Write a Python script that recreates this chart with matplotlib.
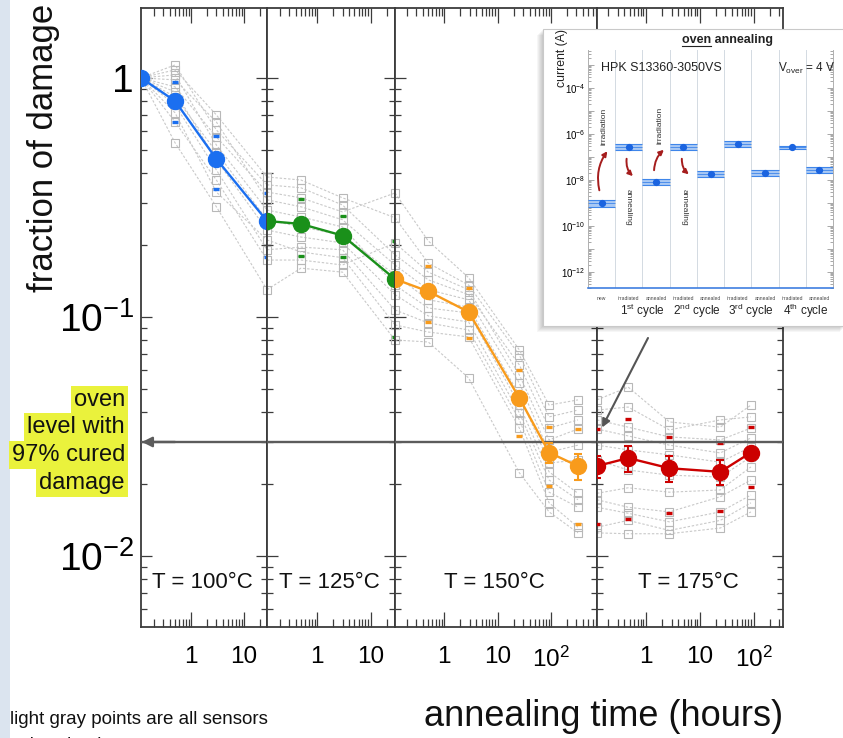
import matplotlib
matplotlib.use("Agg")
import matplotlib.pyplot as plt
from matplotlib.patches import Rectangle, FancyArrowPatch
from matplotlib.ticker import FixedLocator, FixedFormatter, NullFormatter, LogLocator

plt.rcParams.update({
    "font.family": ["Liberation Sans", "DejaVu Sans"],
    "mathtext.fontset": "custom",
    "mathtext.rm": "Liberation Sans",
    "mathtext.it": "Liberation Sans:italic",
    "mathtext.bf": "Liberation Sans:bold",
    "mathtext.default": "regular",
})

# ---------------- data: fraction of damage vs annealing time ----------------
temps = ["T = 100°C", "T = 125°C", "T = 150°C", "T = 175°C"]

t_100 = [0.114, 0.5, 3.0, 27.0]
t_125 = [0.116, 0.5, 3.0, 28.7]
t_150 = [0.119, 0.5, 2.85, 25.5, 92.0, 320.0]
t_175 = [0.124, 0.47, 2.73, 24.0, 89.0]

mean_100 = [1.0, 0.80, 0.458, 0.252]
mean_125 = [0.252, 0.245, 0.219, 0.144]
mean_150 = [0.144, 0.128, 0.105, 0.0458, 0.0271, 0.0238]
mean_175 = [0.0238, 0.0257, 0.0233, 0.0225, 0.0271]

err_100 = [0.0, 0.0, 0.0, 0.0]
err_125 = [0.0, 0.0, 0.0, 0.0]
err_150 = [0.0, 0.0, 0.0, 0.002, 0.0025, 0.003]
err_175 = [0.0025, 0.0033, 0.0028, 0.0027, 0.0015]

nan = float("nan")
lo_100 = [nan, 0.654, 0.343, 0.178]
hi_100 = [nan, 0.962, 0.572, 0.330]
lo_125 = [nan, 0.180, 0.178, 0.0827]
hi_125 = [nan, 0.312, 0.265, 0.207]
lo_150 = [nan, 0.0953, 0.0817, 0.0318, 0.0196, 0.0136]
hi_150 = [nan, 0.164, 0.132, 0.060, 0.0348, 0.0340]
lo_175 = [0.0136, 0.0143, 0.0152, 0.0154, 0.0195]
hi_175 = [0.0340, 0.0374, 0.0315, 0.0297, 0.0348]

# individual sensors (rows), one value per time point
sensors_100 = [
    [1.0, 1.133, 0.606, 0.357],
    [1.0, 1.080, 0.700, 0.385],
    [1.0, 1.029, 0.524, 0.280],
    [1.0, 0.981, 0.654, 0.309],
    [1.0, 0.917, 0.566, 0.333],
    [1.0, 0.874, 0.454, 0.231],
    [1.0, 0.833, 0.490, 0.255],
    [1.0, 0.771, 0.412, 0.191],
    [1.0, 0.714, 0.333, 0.210],
    [1.0, 0.654, 0.374, 0.173],
    [1.0, 0.535, 0.289, 0.130],
]
sensors_125 = [
    [0.357, 0.347, 0.294, 0.182],
    [0.385, 0.374, 0.315, 0.260],
    [0.280, 0.262, 0.238, 0.136],
    [0.309, 0.289, 0.255, 0.165],
    [0.333, 0.315, 0.275, 0.330],
    [0.231, 0.216, 0.204, 0.124],
    [0.255, 0.238, 0.220, 0.150],
    [0.191, 0.196, 0.191, 0.107],
    [0.210, 0.187, 0.177, 0.0926],
    [0.173, 0.173, 0.165, 0.204],
    [0.130, 0.160, 0.154, 0.0801],
]
sensors_150 = [
    [0.182, 0.143, 0.124, 0.0630, 0.0343, 0.0371],
    [0.260, 0.168, 0.136, 0.0693, 0.0382, 0.0408],
    [0.136, 0.109, 0.104, 0.0428, 0.0225, 0.0183],
    [0.165, 0.130, 0.118, 0.0529, 0.0272, 0.0291],
    [0.330, 0.208, 0.146, 0.0728, 0.0428, 0.0450],
    [0.124, 0.101, 0.0953, 0.0397, 0.0208, 0.0172],
    [0.150, 0.118, 0.110, 0.0472, 0.0245, 0.0252],
    [0.107, 0.0944, 0.0882, 0.0371, 0.0185, 0.0160],
    [0.0926, 0.0865, 0.0825, 0.0343, 0.0167, 0.0132],
    [0.204, 0.154, 0.130, 0.0572, 0.0306, 0.0340],
    [0.0801, 0.0786, 0.0556, 0.0223, 0.0153, 0.0125],
]
sensors_175 = [
    [0.0371, 0.0346, 0.0315, 0.0306, 0.0343],
    [0.0408, 0.0420, 0.0337, 0.0371, 0.0382],
    [0.0183, 0.0193, 0.0185, 0.0189, 0.0236],
    [0.0291, 0.0278, 0.0265, 0.0247, 0.0286],
    [0.0450, 0.0509, 0.0364, 0.0346, 0.0428],
    [0.0172, 0.0160, 0.0153, 0.0177, 0.0208],
    [0.0252, 0.0229, 0.0218, 0.0214, 0.0260],
    [0.0160, 0.0151, 0.0139, 0.0153, 0.0180],
    [0.0132, 0.0141, 0.0128, 0.0141, 0.0167],
    [0.0340, 0.0318, 0.0291, 0.0270, 0.0312],
    [0.0125, 0.0124, 0.0124, 0.0131, 0.0153],
]

oven_level = 0.03

# inset: dark current through four irradiation / oven annealing cycles
cat_labels = ["new", "irradiated", "annealed", "irradiated", "annealed",
              "irradiated", "annealed", "irradiated", "annealed"]
cycle_labels = ["1$^{st}$ cycle", "2$^{nd}$ cycle", "3$^{rd}$ cycle", "4$^{th}$ cycle"]
current = [1.0e-9, 2.8e-7, 8.0e-9, 2.8e-7, 1.8e-8, 3.6e-7, 2.1e-8, 2.6e-7, 2.7e-8]
current_lo = [7.0e-10, 2.1e-7, 5.8e-9, 2.1e-7, 1.35e-8, 2.7e-7, 1.55e-8, 2.25e-7, 2.05e-8]
current_hi = [1.4e-9, 3.7e-7, 1.1e-8, 3.7e-7, 2.4e-8, 4.8e-7, 2.85e-8, 3.0e-7, 3.5e-8]

# ---------------- layout ----------------
W, H = 843, 738
fig = plt.figure(figsize=(W / 100, H / 100), dpi=100)


def fx(x):
    return x / W


def fy(y):
    return 1 - y / H


fig.patches.append(Rectangle((0, 0), fx(10), 1, transform=fig.transFigure,
                             facecolor="#dbe4ef", edgecolor="none", zorder=0))

edges = [141, 267, 395, 597, 783]
top_px, bot_px = 8, 627
xlims = [(0.114, 27.0), (0.116, 28.7), (0.119, 728.0), (0.124, 350.0)]
xmajor = [[1, 10], [1, 10], [1, 10, 100], [1, 10, 100]]
xmajor_lab = [["1", "10"], ["1", "10"], ["1", "10", "$10^2$"], ["1", "10", "$10^2$"]]

times = [t_100, t_125, t_150, t_175]
means = [mean_100, mean_125, mean_150, mean_175]
errs = [err_100, err_125, err_150, err_175]
los = [lo_100, lo_125, lo_150, lo_175]
his = [hi_100, hi_125, hi_150, hi_175]
sensors = [sensors_100, sensors_125, sensors_150, sensors_175]
colors = ["#1b6ff0", "#1a901a", "#f89b1c", "#cc0000"]

spine_c = "#3c3c3c"
axes = []
for i in range(4):
    ax = fig.add_axes([fx(edges[i]), fy(bot_px), (edges[i + 1] - edges[i]) / W,
                       (bot_px - top_px) / H])
    axes.append(ax)
    ax.set_xscale("log")
    ax.set_yscale("log")
    ax.set_xlim(*xlims[i])
    ax.set_ylim(0.00505, 1.96)
    for s in ax.spines.values():
        s.set_color(spine_c)
        s.set_linewidth(1.3)

    # individual sensors
    for row in sensors[i]:
        ax.plot(times[i], row, ls=(0, (2.2, 1.6)), color="#c9c9c9", lw=0.8,
                marker="s", ms=6.2, mfc="none", mec="#b8b8b8", mew=0.8, zorder=2)
    # spread of the sensors
    ax.plot(times[i], los[i], ls="none", marker="_", ms=5, mew=2.4,
            color=colors[i], zorder=3)
    ax.plot(times[i], his[i], ls="none", marker="_", ms=5, mew=2.4,
            color=colors[i], zorder=3)
    # average
    ax.errorbar(times[i], means[i], yerr=errs[i], color=colors[i], marker="o",
                ms=11.5, mec=colors[i], lw=1.7, elinewidth=1.5, capsize=3,
                capthick=1.5, zorder=5)

    ax.axhline(oven_level, color="#5c5c5c", lw=1.7, zorder=4)

    ax.xaxis.set_major_locator(FixedLocator(xmajor[i]))
    ax.xaxis.set_major_formatter(FixedFormatter(xmajor_lab[i]))
    ax.xaxis.set_minor_locator(LogLocator(base=10, subs=range(2, 10), numticks=20))
    ax.xaxis.set_minor_formatter(NullFormatter())
    ax.tick_params(axis="x", which="both", direction="in", top=True, bottom=True,
                   color=spine_c, width=0.9)
    ax.tick_params(axis="x", which="major", length=11, pad=14, labelsize=17.5)
    ax.tick_params(axis="x", which="minor", length=6)

    ax.yaxis.set_major_locator(FixedLocator([0.01, 0.1, 1.0]))
    ax.yaxis.set_minor_locator(LogLocator(base=10, subs=range(2, 10), numticks=20))
    ax.yaxis.set_minor_formatter(NullFormatter())
    ax.tick_params(axis="y", which="both", direction="in", left=True, right=True,
                   color=spine_c, width=0.9)
    ax.tick_params(axis="y", which="major", length=8, labelsize=28, pad=5)
    ax.tick_params(axis="y", which="minor", length=4.5)
    if i == 0:
        ax.yaxis.set_major_formatter(FixedFormatter(["$10^{-2}$", "$10^{-1}$", "1"]))
    else:
        ax.yaxis.set_major_formatter(NullFormatter())

    ax.text(0.49, (bot_px - 582) / (bot_px - top_px), temps[i], transform=ax.transAxes,
            ha="center", va="center", fontsize=16, color="#111111", zorder=6)

# arrow head of the oven level line
axes[0].annotate("", xy=(xlims[0][0] * 1.04, oven_level), xytext=(0.5, oven_level),
                 arrowprops=dict(arrowstyle="-|>", color="#5c5c5c", lw=1.7,
                                 mutation_scale=15, shrinkA=0, shrinkB=0),
                 annotation_clip=False, zorder=6)

# axis titles and notes
fig.text(fx(44), fy(148), "fraction of damage", rotation=90, ha="center",
         va="center", fontsize=25, color="#111111")
fig.text(fx(604), fy(716), "annealing time (hours)", ha="center", va="center",
         fontsize=26, color="#111111")
fig.text(fx(10), fy(720), "light gray points are all sensors", ha="left",
         va="center", fontsize=13.5, color="#111111")
fig.text(fx(10), fy(745), "colored points are averages", ha="left",
         va="center", fontsize=13.5, color="#111111")

hl_lines = ["oven", "level with", "97% cured", "damage"]
hl_y = [400, 427, 455, 483]
for s, yy in zip(hl_lines, hl_y):
    fig.text(fx(125), fy(yy), s, ha="right", va="center", fontsize=17,
             color="#111111",
             bbox=dict(facecolor="#eaf23c", edgecolor="none", pad=2.2))

# ---------------- inset panel ----------------
bx0, by0, bx1, by1 = 543, 29, 846, 326
for k in range(1, 7):
    fig.patches.append(Rectangle((fx(bx0 - k), fy(by1 + k)), (bx1 - bx0) / W,
                                 (by1 - by0) / H, transform=fig.transFigure,
                                 facecolor="black", edgecolor="none",
                                 alpha=0.035, zorder=8))
fig.patches.append(Rectangle((fx(bx0), fy(by1)), (bx1 - bx0) / W, (by1 - by0) / H,
                             transform=fig.transFigure, facecolor="white",
                             edgecolor="#c9c9c9", lw=0.8, zorder=9))

ins = fig.add_axes([fx(588), fy(288), 245 / W, 238 / H])
ins.set_zorder(10)
ins.set_facecolor("none")
ins.set_yscale("log")
ins.set_xlim(0, len(current))
ins.set_ylim(2e-13, 4.5e-3)
for k in range(1, len(current)):
    ins.axvline(k, color="#d3dae2", lw=0.7, zorder=1)
for k, (c, lo, hi) in enumerate(zip(current, current_lo, current_hi)):
    ins.fill_between([k, k + 1], lo, hi, color="#a8c8f4", lw=0, zorder=2)
    ins.hlines([lo, hi], k, k + 1, color="#3f86ea", lw=0.8, zorder=3)
    ins.hlines(c, k, k + 1, color="#3f86ea", lw=0.6, zorder=3)
    ins.plot(k + 0.5, c, "o", color="#1b64e0", ms=4.2, zorder=4)
    ins.text(k + 0.5, -0.045, cat_labels[k], transform=ins.get_xaxis_transform(),
             ha="center", va="center", fontsize=3.6, color="#444444")
for k, lab in enumerate(cycle_labels):
    ins.text(2 * k + 2, -0.095, lab, transform=ins.get_xaxis_transform(),
             ha="center", va="center", fontsize=8.5, color="#222222")

ins.spines["top"].set_visible(False)
ins.spines["bottom"].set_color("#3f7fe0")
ins.spines["bottom"].set_linewidth(1.2)
for side in ("left", "right"):
    ins.spines[side].set_color("#b0b0b0")
    ins.spines[side].set_linewidth(0.7)
ins.set_xticks([])
dec = [10.0 ** e for e in range(-13, -2)]
ins.yaxis.set_major_locator(FixedLocator(dec))
ins.yaxis.set_major_formatter(FixedFormatter(
    ["" if e % 2 else "$10^{%d}$" % e for e in range(-13, -2)]))
ins.yaxis.set_minor_locator(LogLocator(base=10, subs=range(2, 10), numticks=30))
ins.yaxis.set_minor_formatter(NullFormatter())
ins.tick_params(axis="y", which="both", direction="in", left=True, right=True,
                color="#9a9a9a", width=0.6, labelsize=7, pad=2)
ins.tick_params(axis="y", which="major", length=4.5)
ins.tick_params(axis="y", which="minor", length=2.5)

# inset titles
ttl = fig.text(fx(727), fy(40), "oven annealing", ha="center", va="center",
               fontsize=9, fontweight="bold", color="#222222", zorder=11)
fig.text(fx(601), fy(68), "HPK S13360-3050VS", ha="left", va="center",
         fontsize=9, color="#222222", zorder=11)
fig.text(fx(778), fy(68), "V$_{over}$ = 4 V", ha="left", va="center",
         fontsize=8.5, color="#222222", zorder=11)
fig.text(fx(562), fy(58), "current (A)", rotation=90, ha="center", va="center",
         fontsize=8.8, color="#222222", zorder=11)
for (x, y) in [(604, 126), (660, 125)]:
    fig.text(fx(x), fy(y), "irradiation", rotation=90, ha="center", va="center",
             fontsize=6, color="#333333", zorder=11)
for (x, y) in [(628, 207), (684, 207)]:
    fig.text(fx(x), fy(y), "annealing", rotation=270, ha="center", va="center",
             fontsize=6, color="#333333", zorder=11)

arrows = [((600, 193), (609, 149), -0.25), ((627, 156), (635, 178), 0.3),
          ((654, 173), (666, 148), -0.25), ((682, 156), (691, 176), 0.3)]
for (p0, p1, rad) in arrows:
    fig.patches.append(FancyArrowPatch(
        (fx(p0[0]), fy(p0[1])), (fx(p1[0]), fy(p1[1])), transform=fig.transFigure,
        connectionstyle="arc3,rad=%g" % rad, arrowstyle="-|>", mutation_scale=7,
        color="#a51d1d", lw=1.4, zorder=11))

# underline the word "oven" in the inset title
fig.canvas.draw()
renderer = fig.canvas.get_renderer()
bb = ttl.get_window_extent(renderer)
tmp = fig.text(0, 0, "oven", fontsize=9, fontweight="bold")
w_oven = tmp.get_window_extent(renderer).width
tmp.remove()
inv = fig.transFigure.inverted()
(ux0, uy), (ux1, _) = inv.transform([(bb.x0, bb.y0 + 0.5), (bb.x0 + w_oven, bb.y0)])
fig.add_artist(plt.Line2D([ux0, ux1], [uy, uy], color="#222222", lw=0.8,
                          transform=fig.transFigure, zorder=11))

# pointer from the inset down to the oven level
axes[3].annotate("", xy=(0.154, 0.0345), xycoords="data",
                 xytext=(fx(648), fy(338)), textcoords="figure fraction",
                 arrowprops=dict(arrowstyle="-|>", color="#555555", lw=1.5,
                                 mutation_scale=12, shrinkA=0, shrinkB=0),
                 annotation_clip=False, zorder=12)

fig.savefig("out.png", dpi=100)
